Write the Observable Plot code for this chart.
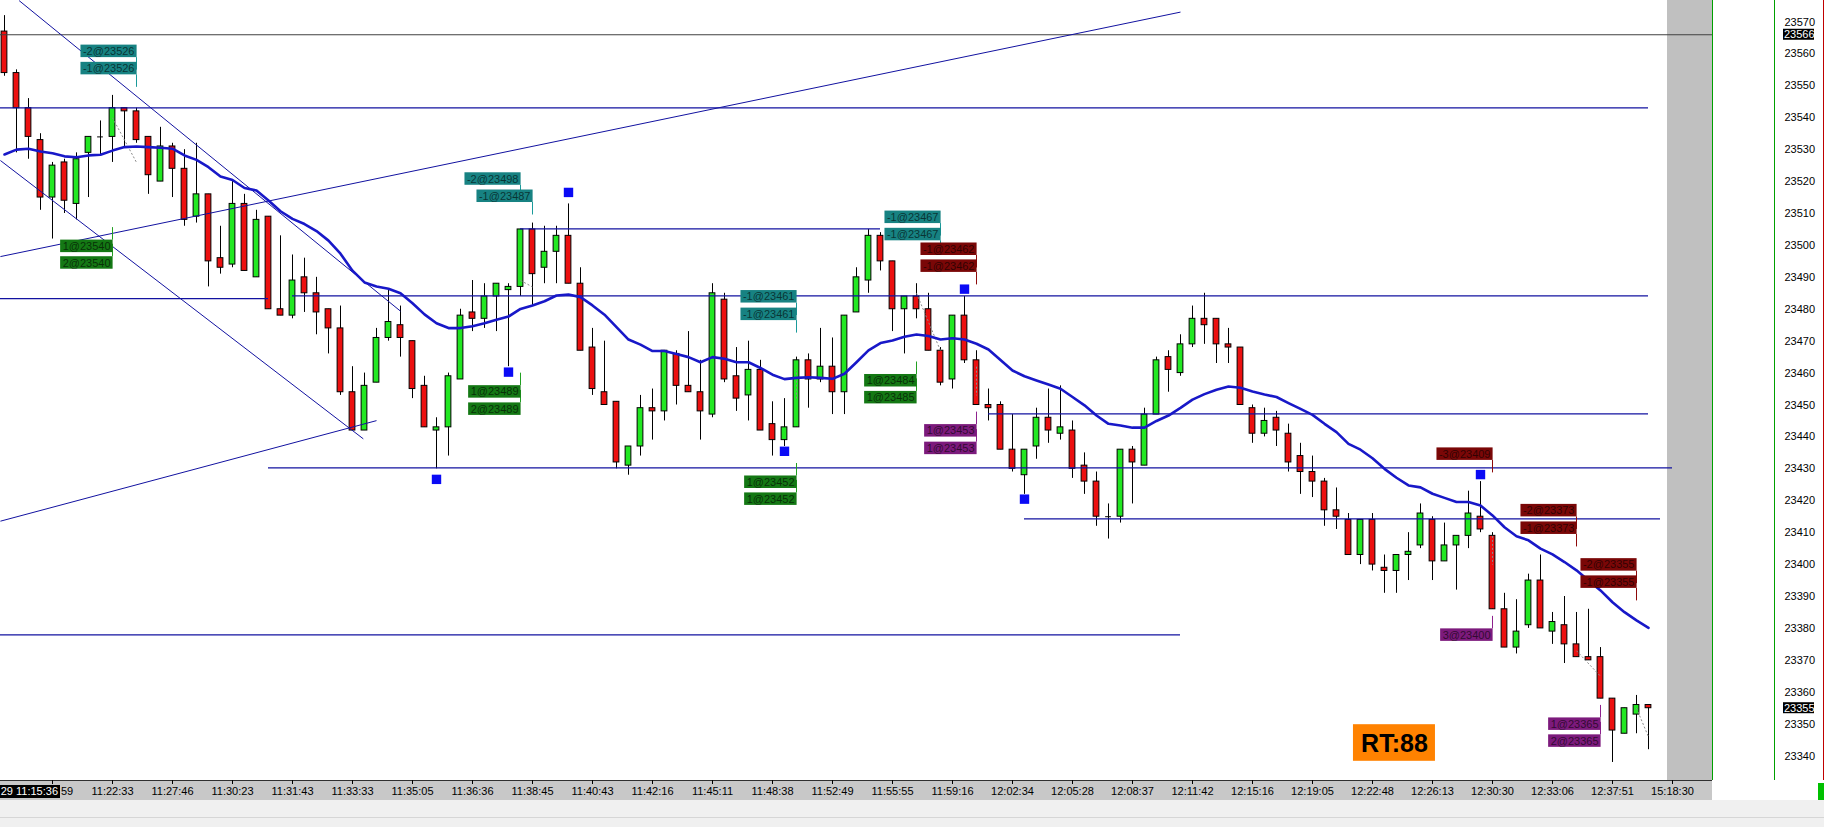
<!DOCTYPE html>
<html><head><meta charset="utf-8">
<script src="https://cdn.jsdelivr.net/npm/d3@7"></script>
<script src="https://cdn.jsdelivr.net/npm/@observablehq/plot@0.6"></script>
<style>
html,body{margin:0;padding:0;background:#fff;}
#chart{position:relative;width:1824px;height:827px;overflow:hidden;}
</style></head><body><div id="chart"></div>
<script>
// ---------- data ----------
const opens = [23567,23554,23543,23533,23515,23526,23513,23529,23534,23534,
23543,23542,23534,23520,23531,23524,23509,23516,23496,23494,
23513,23490,23509,23480,23478,23490,23485,23480,23474,23454,
23442,23457,23471,23475,23470,23456,23442,23443,23458,23479,
23477,23484,23486,23487,23505,23493,23498,23503,23488,23468,
23454,23451,23431,23437,23449,23448,23466,23456,23454,23447,
23483,23459,23453,23461,23444,23439,23443,23464,23458,23462,
23454,23479,23489,23503,23495,23480,23484,23480,23467,23458,
23478,23464,23450,23450,23436,23428,23437,23446,23441,23442,
23431,23426,23415,23415,23436,23431,23447,23465,23460,23469,
23477,23477,23469,23468,23449,23441,23446,23441,23434,23429,
23426,23417,23414,23403,23414,23399,23398,23403,23406,23414,
23401,23406,23409,23415,23409,23386,23374,23381,23395,23379,
23381,23375,23371,23371,23358,23347,23353,23356];
const highs = [23572,23555,23546,23535,23526,23527,23529,23534,23539,23547,
23543,23543,23534,23537,23532,23530,23532,23516,23506,23520,
23516,23511,23509,23503,23497,23496,23490,23480,23481,23462,
23460,23474,23486,23481,23470,23459,23446,23460,23480,23489,
23488,23488,23488,23505,23507,23506,23506,23513,23493,23474,
23470,23451,23437,23453,23455,23467,23467,23473,23464,23488,
23485,23468,23470,23464,23451,23452,23465,23466,23474,23471,
23478,23493,23505,23504,23495,23484,23488,23485,23468,23478,
23484,23467,23455,23451,23447,23436,23449,23455,23456,23445,
23435,23429,23419,23436,23437,23449,23465,23467,23472,23481,
23485,23477,23474,23468,23450,23449,23448,23444,23438,23434,
23427,23424,23416,23414,23416,23403,23403,23410,23419,23415,
23413,23409,23423,23426,23410,23391,23389,23397,23403,23385,
23390,23385,23386,23374,23358,23355,23359,23356];
const lows = [23553,23529,23527,23511,23502,23510,23508,23515,23528,23526,
23531,23532,23516,23520,23515,23506,23507,23487,23491,23493,
23492,23490,23480,23478,23477,23479,23472,23466,23453,23442,
23442,23457,23470,23465,23452,23443,23430,23434,23458,23473,
23474,23473,23462,23484,23481,23488,23488,23488,23467,23453,
23450,23430,23428,23434,23439,23445,23450,23454,23439,23446,
23457,23448,23445,23442,23434,23437,23443,23449,23457,23447,
23447,23479,23485,23492,23473,23466,23477,23467,23456,23455,
23463,23450,23445,23436,23429,23422,23433,23438,23439,23427,
23422,23412,23408,23413,23419,23431,23447,23454,23459,23468,
23469,23463,23463,23450,23438,23440,23437,23429,23422,23421,
23412,23411,23403,23400,23398,23391,23391,23395,23405,23395,
23401,23392,23405,23410,23386,23374,23372,23380,23380,23375,
23369,23371,23370,23358,23338,23347,23347,23342];
const closes = [23554,23543,23534,23515,23525,23514,23527,23534,23534,23543,
23542,23533,23522,23531,23524,23508,23516,23495,23493,23513,
23492,23508,23480,23478,23489,23485,23479,23474,23454,23442,
23456,23471,23476,23471,23455,23443,23443,23459,23478,23477,
23484,23488,23487,23505,23491,23498,23503,23488,23467,23455,
23450,23432,23437,23449,23448,23467,23456,23454,23448,23485,
23458,23452,23461,23442,23439,23443,23464,23458,23462,23454,
23478,23490,23503,23495,23480,23484,23480,23467,23457,23478,
23464,23450,23449,23436,23430,23436,23446,23442,23443,23430,
23426,23415,23415,23436,23432,23447,23464,23461,23469,23477,
23475,23469,23468,23450,23441,23445,23442,23432,23429,23426,
23417,23415,23403,23414,23400,23398,23403,23404,23416,23401,
23406,23409,23416,23411,23386,23374,23379,23395,23380,23382,
23375,23371,23370,23358,23348,23355,23356,23355];
const emaValues = [23528.5,23530.0,23530.3,23529.4,23528.9,23527.9,23527.6,23528.2,23528.4,23529.7,
23530.8,23531.0,23530.8,23530.6,23530.3,23528.2,23526.8,23524.5,23521.6,23520.5,
23518.0,23517.2,23514.1,23510.7,23508.3,23506.7,23504.5,23501.5,23497.4,23492.1,
23488.4,23487.1,23486.4,23485.0,23481.9,23478.4,23475.6,23474.1,23474.1,23474.7,
23475.6,23476.7,23477.7,23480.1,23481.2,23482.5,23484.3,23484.6,23483.8,23481.2,
23478.3,23474.4,23470.5,23468.9,23466.9,23466.9,23466.0,23465.0,23463.4,23465.0,
23464.5,23463.4,23463.4,23461.6,23459.5,23458.1,23458.5,23458.7,23458.5,23458.2,
23459.8,23463.4,23467.1,23469.4,23470.2,23471.4,23472.1,23471.6,23470.5,23470.9,
23470.5,23469.2,23467.4,23464.1,23460.8,23459.0,23457.7,23456.4,23455.1,23452.5,
23449.9,23446.7,23444.1,23443.6,23442.9,23442.9,23445.0,23446.7,23449.1,23451.7,
23453.4,23454.8,23455.8,23455.4,23454.2,23453.3,23452.5,23450.6,23448.8,23446.9,
23444.1,23441.5,23437.8,23436.0,23433.3,23430.0,23427.2,23424.8,23424.2,23422.2,
23420.9,23419.6,23419.6,23418.5,23415.4,23411.7,23408.9,23407.6,23405.0,23403.2,
23400.8,23398.2,23395.0,23391.9,23388.2,23385.1,23382.5,23380.2];

const tickBars = [4,9,14,19,24,29,34,39,44,49,54,59,64,69,74,79,84,89,94,99,104,109,114,119,124,129,134,139];
const tickLabels = ["59","11:22:33","11:27:46","11:30:23","11:31:43","11:33:33","11:35:05","11:36:36","11:38:45","11:40:43",
"11:42:16","11:45:11","11:48:38","11:52:49","11:55:55","11:59:16","12:02:34","12:05:28","12:08:37","12:11:42",
"12:15:16","12:19:05","12:22:48","12:26:13","12:30:30","12:33:06","12:37:51","15:18:30"];
const priceTicks = [23340,23350,23360,23370,23380,23390,23400,23410,23420,23430,23440,23450,
23460,23470,23480,23490,23500,23510,23520,23530,23540,23550,23560,23570];

// drawn horizontal levels
const levelPrices = [23566,23543.1,23483.3,23484.2,23505.2,23447.2,23430.3,23414.35,23378];
const levelFrom   = [-1,-1,-1,24,43,82,22,85,-1];
const levelTo     = [142.33,137,22,137,73,137,139,138,98];

// drawn trend lines
const trendFromBar   = [-0.34,-0.34,1.22,-0.34];
const trendFromPrice = [23496.5,23413.6,23576.7,23526.6];
const trendToBar     = [98,31,33,29.9];
const trendToPrice   = [23573.1,23445.1,23479.4,23439.4];

// blue signal squares
const signalBars   = [36,42,47,65,80,85,123];
const signalPrices = [23426.7,23460.3,23516.6,23435.5,23486.3,23420.5,23428.2];

// trade labels
const tradeTexts = ["-2@23526","-1@23526","1@23540","2@23540","-2@23498","-1@23487","1@23489","2@23489",
"-1@23461","-1@23461","1@23452","1@23452","-1@23467","-1@23467","-1@23462","-1@23462",
"1@23484","1@23485","1@23453","1@23453","-3@23409","-2@23373","-1@23373","-2@23355","-1@23355",
"3@23400","1@23365","2@23365"];
const tradeBars = [11,11,9,9,43,44,43,43,66,66,66,66,78,78,81,81,76,76,81,81,124,131,131,136,136,124,133,133];
const tradeLevels = [23560.8,23555.4,23499.7,23494.5,23520.8,23515.4,23454.1,23448.7,
23483.9,23478.4,23425.8,23420.5,23508.8,23503.4,23498.8,23493.5,
23457.6,23452.3,23441.9,23436.4,23434.6,23416.9,23411.4,23399.9,23394.5,
23377.9,23350.0,23344.7];
const tradeKinds = ["teal","teal","green","green","teal","teal","green","green",
"teal","teal","green","green","teal","teal","red","red",
"green","green","purple","purple","red","red","red","red","red",
"purple","purple","purple"];

// entry -> exit connections
const pathFromBar   = [9,43,76,131,136,66,81,124];
const pathFromPrice = [23540,23489,23485,23373,23355,23452,23462,23409];
const pathToBar     = [11,44,78,133,137,66,81,124];
const pathToPrice   = [23526,23487,23467,23365,23346,23461,23453,23400];

const rtText = "RT:88";
const highlightPrices = [23566, 23355];
const cursorLabel = "29 11:15:36";

// ---------- build ----------
const FONT = "'Liberation Sans', Arial, sans-serif";
const UP = "#22e822", DOWN = "#ec1010";
const candles = opens.map((o, i) => ({i, o, h: highs[i], l: lows[i], c: closes[i]}));
const levels = levelPrices.map((p, k) => ({p, a: levelFrom[k], b: levelTo[k], k}));
const trends = trendFromBar.map((a, k) => ({a, pa: trendFromPrice[k], b: trendToBar[k], pb: trendToPrice[k]}));
const signals = signalBars.map((b, k) => ({b, p: signalPrices[k]}));
const paths = pathFromBar.map((a, k) => ({a, pa: pathFromPrice[k], b: pathToBar[k], pb: pathToPrice[k]}));

const ctx = document.createElement("canvas").getContext("2d");
ctx.font = "11px " + FONT;
const boxFill = {teal: "#178282", green: "#147814", red: "#7a0707", purple: "#7c1a7c"};
const connColor = {teal: "#1a9a9a", green: "#22a022", red: "#8e0a0a", purple: "#8e228e"};
const PX = 12;           // pixels per bar
const PPRICE = 3.1917;   // pixels per point
const boxH = 12.5 / PPRICE;
const trades = tradeTexts.map((t, k) => {
  const w = (ctx.measureText(t).width + 4) / PX;
  const sell = t.startsWith("-");
  const lvl = tradeLevels[k];
  return {t, b: tradeBars[k], p: lvl, w, kind: tradeKinds[k],
    c1: sell ? lvl - boxH / 2 : lvl + boxH / 2,
    c2: sell ? lvl - boxH / 2 - 12.5 / PPRICE : lvl + boxH / 2 + 12.5 / PPRICE};
});

const halfBody = 0.24;
const rt = [{b: 115.83, p: 23344.1}];

const plot = Plot.plot({
  width: 1824, height: 827,
  marginTop: 0, marginLeft: 0, marginRight: 50, marginBottom: 47,
  style: {background: "transparent", fontFamily: FONT, fontSize: "11px", color: "#000", overflow: "visible"},
  x: {type: "linear", domain: [0, 139], range: [4, 4 + 139 * PX], ticks: tickBars,
      tickFormat: i => tickLabels[tickBars.indexOf(i)] ?? "", tickSize: 4, tickPadding: 3, label: null, axis: "bottom"},
  y: {type: "linear", domain: [23340, 23570], range: [404.5 + 110 * PPRICE, 404.5 - 120 * PPRICE],
      ticks: priceTicks, tickFormat: d => String(d), tickSize: 0, tickPadding: 10, label: null, axis: "right"},
  marks: [
    // candles
    Plot.ruleX(candles, {x: "i", y1: "l", y2: "h", stroke: "#000", strokeWidth: 1}),
    Plot.rect(candles.filter(d => d.o !== d.c), {x1: d => d.i - halfBody, x2: d => d.i + halfBody,
      y1: "o", y2: "c", fill: d => d.c > d.o ? UP : DOWN, stroke: "#000", strokeWidth: 1}),
    Plot.ruleY(candles.filter(d => d.o === d.c), {y: "o", x1: d => d.i - halfBody, x2: d => d.i + halfBody, stroke: "#000"}),
    // drawn levels and trend lines
    Plot.ruleY(levels, {y: "p", x1: "a", x2: "b", stroke: d => d.k === 0 ? "#404040" : "#1212a0", strokeWidth: 1.2}),
    Plot.link(trends, {x1: "a", y1: "pa", x2: "b", y2: "pb", stroke: "#1212a0", strokeWidth: 1}),
    // trade paths
    Plot.link(paths, {x1: "a", y1: "pa", x2: "b", y2: "pb", stroke: "#8a8a8a", strokeWidth: 1, strokeDasharray: "2,2"}),
    // EMA
    Plot.line(emaValues, {x: (d, i) => i, y: d => d, stroke: "#1818c8", strokeWidth: 2.6}),
    // signals
    Plot.dot(signals, {x: "b", y: "p", symbol: "square", r: 5.3, fill: "#0a0af5", stroke: "none"}),
    // trade label connectors, boxes, text
    Plot.ruleX(trades, {x: "b", y1: "c1", y2: "c2", stroke: d => connColor[d.kind], strokeWidth: 1}),
    Plot.rect(trades, {x1: d => d.b - d.w, x2: d => d.b + 0.05, y1: d => d.p - boxH / 2, y2: d => d.p + boxH / 2,
      fill: d => boxFill[d.kind]}),
    Plot.text(trades, {x: "b", y: "p", text: "t", textAnchor: "end", dx: -2, fill: "#000", fillOpacity: 0.62, fontSize: 11}),
    // RT box
    Plot.rect(rt, {x1: d => d.b - 41 / PX, x2: d => d.b + 41 / PX, y1: d => d.p - 18.3 / PPRICE, y2: d => d.p + 18.3 / PPRICE, fill: "#ff8200"}),
    Plot.text(rt, {x: "b", y: "p", text: () => rtText, fontSize: 25, fontWeight: "bold", fill: "#000", dy: 1})
  ]
});

// ---------- chrome ----------
const svg = d3.select(plot);
const y = v => plot.scale("y").apply(v);
// first x tick label is partly hidden behind the cursor box: show only its visible tail
svg.selectAll("text").filter(function() { return this.textContent === tickLabels[0]; })
  .attr("text-anchor", "start").attr("dx", 8.5);
const back = svg.insert("g", ":first-child");
back.append("rect").attr("x", 1667).attr("y", 0).attr("width", 45).attr("height", 780).attr("fill", "#c0c0c0");
back.append("rect").attr("x", 0).attr("y", 780).attr("width", 1712).attr("height", 20).attr("fill", "#c8c8c8");
back.append("rect").attr("x", 0).attr("y", 800).attr("width", 1824).attr("height", 27).attr("fill", "#f0f0f0");
back.append("line").attr("x1", 0).attr("x2", 1824).attr("y1", 817.5).attr("y2", 817.5).attr("stroke", "#d6d6d6");
back.append("line").attr("x1", 0).attr("x2", 1712).attr("y1", 780.5).attr("y2", 780.5).attr("stroke", "#303030");

const front = svg.append("g").attr("text-anchor", "start");
front.append("line").attr("x1", 1712.5).attr("x2", 1712.5).attr("y1", 0).attr("y2", 780).attr("stroke", "#00a000");
front.append("line").attr("x1", 1774.5).attr("x2", 1774.5).attr("y1", 0).attr("y2", 780).attr("stroke", "#00a000");
front.append("line").attr("x1", 1823.5).attr("x2", 1823.5).attr("y1", 0).attr("y2", 780).attr("stroke", "#c00000");
front.append("rect").attr("x", 1818).attr("y", 783).attr("width", 6).attr("height", 17).attr("fill", "#00c000");
highlightPrices.forEach(v => {
  front.append("rect").attr("x", 1783).attr("y", y(v) - 5.5).attr("width", 31).attr("height", 11).attr("fill", "#000");
  front.append("text").attr("x", 1784).attr("y", y(v)).attr("dy", "0.36em").attr("fill", "#fff")
    .attr("text-anchor", "start").attr("font-family", FONT).attr("font-size", 11).text(String(v));
});
front.append("rect").attr("x", 0).attr("y", 785).attr("width", 60).attr("height", 13).attr("fill", "#000");
front.append("text").attr("x", 58).attr("y", 791.5).attr("dy", "0.36em").attr("text-anchor", "end").attr("fill", "#fff")
  .attr("font-family", FONT).attr("font-size", 11).text(cursorLabel);

document.getElementById("chart").appendChild(plot);
</script></body></html>
